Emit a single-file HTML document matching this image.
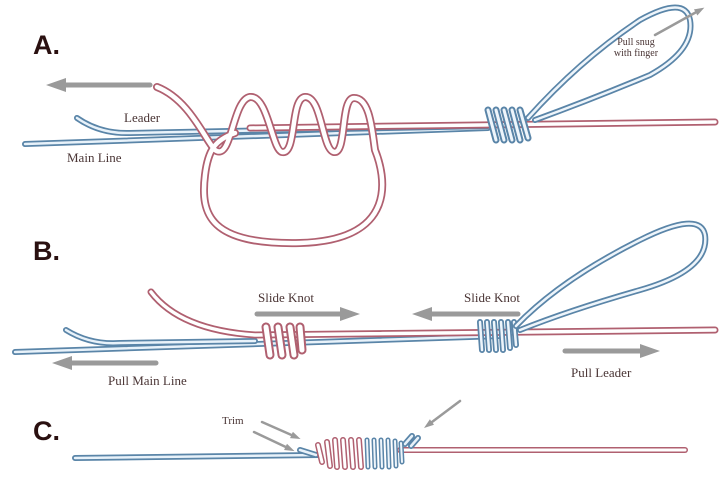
<!DOCTYPE html>
<html><head><style>
html,body{margin:0;padding:0;background:#fff;}
svg{display:block;}
.lbl{font-family:"Liberation Serif",serif;fill:#4a3535;}
.hd{font-family:"Liberation Sans",sans-serif;font-weight:bold;font-size:27px;fill:#2a1010;}
</style></head><body>
<svg width="728" height="480" viewBox="0 0 728 480" xmlns="http://www.w3.org/2000/svg">
<defs>
<marker id="ah" markerWidth="4" markerHeight="4" refX="2" refY="2" orient="auto" markerUnits="strokeWidth">
<path d="M0,0.6 L4,2 L0,3.4 z" fill="#9a9a9a"/></marker>
</defs>
<g fill="none" stroke-linecap="round" stroke-linejoin="round">
<!-- A -->
<text class="hd" x="33" y="54">A.</text>
<line x1="150" y1="85" x2="56" y2="85" stroke="#9a9a9a" stroke-width="5" marker-end="url(#ah)"/>
<path d="M25,144 L488,128" stroke="#5a85a8" stroke-width="6"/>
<path d="M25,144 L488,128" stroke="#e8f2fa" stroke-width="2.5"/>
<path d="M77,118 Q100,134 130,133 L488,126" stroke="#5a85a8" stroke-width="6"/>
<path d="M77,118 Q100,134 130,133 L488,126" stroke="#e8f2fa" stroke-width="2.5"/>
<path d="M250,128 L715,122" stroke="#b06070" stroke-width="7"/>
<path d="M250,128 L715,122" stroke="#fff" stroke-width="3.5"/>
<path d="M157,87 C190,100 205,140 215,150 C232,162 232,100 250,97 C268,95 272,150 282,152 C297,155 290,98 305,97 C322,96 322,150 334,152 C347,154 340,98 354,98 C370,98 372,130 375,150 C385,175 400,240 300,243 C210,245 200,215 205,175 C208,150 215,140 235,133" stroke="#b06070" stroke-width="8"/>
<path d="M157,87 C190,100 205,140 215,150 C232,162 232,100 250,97 C268,95 272,150 282,152 C297,155 290,98 305,97 C322,96 322,150 334,152 C347,154 340,98 354,98 C370,98 372,130 375,150 C385,175 400,240 300,243 C210,245 200,215 205,175 C208,150 215,140 235,133" stroke="#fff" stroke-width="4.5"/>
<g stroke="#5a85a8" stroke-width="7">
<path d="M488,110 L496,140 M496,110 L504,140 M504,110 L512,140 M512,110 L520,140 M520,110 L528,138"/></g>
<g stroke="#eef5fb" stroke-width="3">
<path d="M488,110 L496,140 M496,110 L504,140 M504,110 L512,140 M512,110 L520,140 M520,110 L528,138"/></g>
<path d="M528,118 Q580,60 640,20 Q685,-5 690,20 Q695,50 650,75 Q590,100 535,120" stroke="#5a85a8" stroke-width="6"/>
<path d="M528,118 Q580,60 640,20 Q685,-5 690,20 Q695,50 650,75 Q590,100 535,120" stroke="#eef5fb" stroke-width="2.5"/>
<line x1="655" y1="35" x2="700" y2="10" stroke="#9a9a9a" stroke-width="2.5" marker-end="url(#ah)"/>
<text class="lbl" x="636" y="45" font-size="10" text-anchor="middle" stroke="none">Pull snug</text>
<text class="lbl" x="636" y="56" font-size="10" text-anchor="middle" stroke="none">with finger</text>
<text class="lbl" x="124" y="122" font-size="13" stroke="none">Leader</text>
<text class="lbl" x="67" y="162" font-size="13" stroke="none">Main Line</text>

<!-- B -->
<text class="hd" x="33" y="260">B.</text>
<path d="M15,352 L500,336" stroke="#5a85a8" stroke-width="6"/>
<path d="M15,352 L500,336" stroke="#e8f2fa" stroke-width="2.5"/>
<path d="M66,330 Q90,345 120,343 L255,341" stroke="#5a85a8" stroke-width="6"/>
<path d="M66,330 Q90,345 120,343 L255,341" stroke="#e8f2fa" stroke-width="2.5"/>
<path d="M151,292 Q180,330 255,335 L715,330" stroke="#b06070" stroke-width="7"/>
<path d="M151,292 Q180,330 255,335 L715,330" stroke="#fff" stroke-width="3.5"/>
<g stroke="#b06070" stroke-width="9"><path d="M266,327 L270,355 M278,327 L282,355 M290,327 L294,355 M300,327 L302,350"/></g>
<g stroke="#fff" stroke-width="5"><path d="M266,327 L270,355 M278,327 L282,355 M290,327 L294,355 M300,327 L302,350"/></g>
<g stroke="#5a85a8" stroke-width="6"><path d="M480,322 L482,350 M487,322 L489,350 M494,322 L496,350 M501,322 L503,350 M508,322 L510,348 M514,322 L516,345"/></g>
<g stroke="#eef5fb" stroke-width="2.5"><path d="M480,322 L482,350 M487,322 L489,350 M494,322 L496,350 M501,322 L503,350 M508,322 L510,348 M514,322 L516,345"/></g>
<path d="M516,326 Q560,280 640,240 Q700,210 705,235 Q710,270 640,290 Q570,310 520,330" stroke="#5a85a8" stroke-width="6"/>
<path d="M516,326 Q560,280 640,240 Q700,210 705,235 Q710,270 640,290 Q570,310 520,330" stroke="#eef5fb" stroke-width="2.5"/>
<line x1="257" y1="314" x2="350" y2="314" stroke="#9a9a9a" stroke-width="5" marker-end="url(#ah)"/>
<line x1="518" y1="314" x2="422" y2="314" stroke="#9a9a9a" stroke-width="5" marker-end="url(#ah)"/>
<line x1="156" y1="363" x2="62" y2="363" stroke="#9a9a9a" stroke-width="5" marker-end="url(#ah)"/>
<line x1="565" y1="351" x2="650" y2="351" stroke="#9a9a9a" stroke-width="5" marker-end="url(#ah)"/>
<text class="lbl" x="258" y="302" font-size="13" stroke="none">Slide Knot</text>
<text class="lbl" x="464" y="302" font-size="13" stroke="none">Slide Knot</text>
<text class="lbl" x="108" y="385" font-size="13" stroke="none">Pull Main Line</text>
<text class="lbl" x="571" y="377" font-size="13" stroke="none">Pull Leader</text>

<!-- C -->
<text class="hd" x="33" y="440">C.</text>
<path d="M75,458 L320,455" stroke="#5a85a8" stroke-width="6"/>
<path d="M75,458 L320,455" stroke="#e8f2fa" stroke-width="2.5"/>
<path d="M400,450 L685,450" stroke="#b06070" stroke-width="6"/>
<path d="M400,450 L685,450" stroke="#fff" stroke-width="3"/>
<path d="M300,450 L316,455" stroke="#5a85a8" stroke-width="6"/>
<path d="M300,450 L316,455" stroke="#e8f2fa" stroke-width="2.5"/>
<path d="M405,444 L412,436 M411,446 L418,438" stroke="#5a85a8" stroke-width="6"/>
<path d="M405,444 L412,436 M411,446 L418,438" stroke="#e8f2fa" stroke-width="2.5"/>
<g stroke="#b06070" stroke-width="6"><path d="M318,445 L322,462 M327,442 L330,466 M335,440 L337,467 M343,440 L345,467 M351,440 L353,467 M359,440 L361,467"/></g>
<g stroke="#fff" stroke-width="3"><path d="M318,445 L322,462 M327,442 L330,466 M335,440 L337,467 M343,440 L345,467 M351,440 L353,467 M359,440 L361,467"/></g>
<g stroke="#5a85a8" stroke-width="5"><path d="M367,440 L368,467 M374,440 L375,467 M381,440 L382,467 M388,440 L389,467 M395,441 L396,466 M401,443 L402,462"/></g>
<g stroke="#eef5fb" stroke-width="2"><path d="M367,440 L368,467 M374,440 L375,467 M381,440 L382,467 M388,440 L389,467 M395,441 L396,466 M401,443 L402,462"/></g>
<line x1="262" y1="422" x2="296" y2="437" stroke="#9a9a9a" stroke-width="2.5" marker-end="url(#ah)"/>
<line x1="254" y1="432" x2="290" y2="449" stroke="#9a9a9a" stroke-width="2.5" marker-end="url(#ah)"/>
<line x1="460" y1="401" x2="428" y2="425" stroke="#9a9a9a" stroke-width="2.5" marker-end="url(#ah)"/>
<text class="lbl" x="222" y="424" font-size="11" stroke="none">Trim</text>
</g>
</svg>
</body></html>
